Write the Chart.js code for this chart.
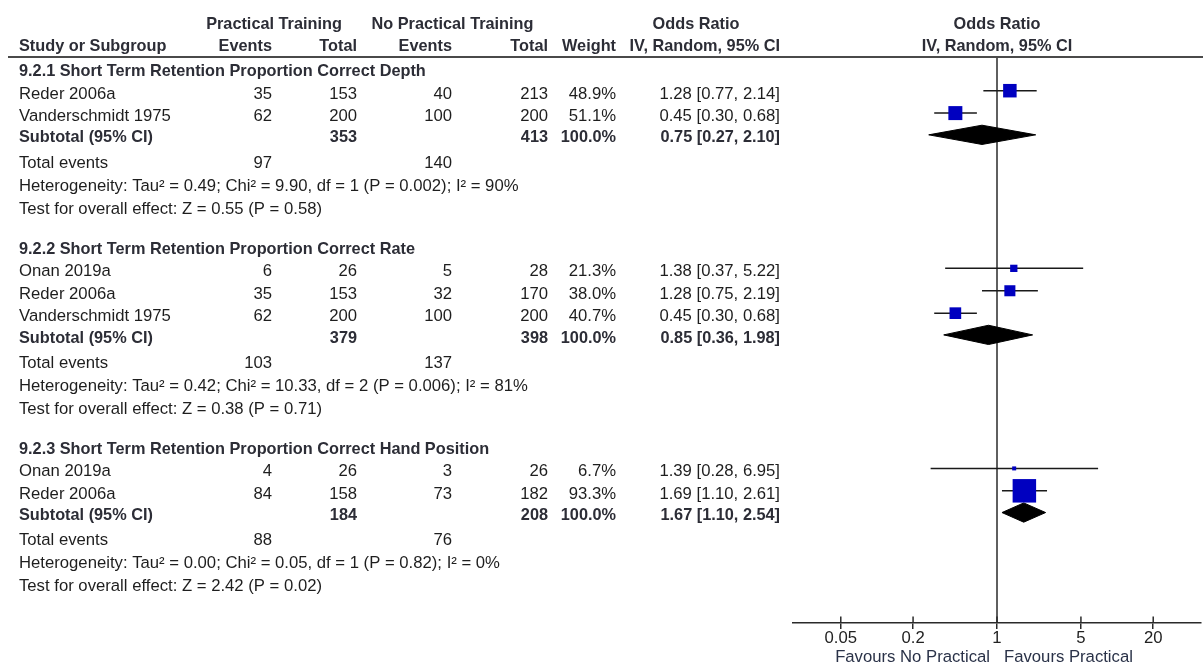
<!DOCTYPE html>
<html>
<head>
<meta charset="utf-8">
<script src="https://cdn.jsdelivr.net/npm/chart.js@4.4.1/dist/chart.umd.min.js"></script>
<style>
  html, body { margin: 0; padding: 0; background: #fff; }
  #wrap { width: 1203px; height: 664px; position: relative; }
</style>
</head>
<body>
<div id="wrap"><canvas id="forest" width="1203" height="664"></canvas></div>
<script>
// ---- Subgroups ----
const subgroupTitles = [
  "9.2.1 Short Term Retention Proportion Correct Depth",
  "9.2.2 Short Term Retention Proportion Correct Rate",
  "9.2.3 Short Term Retention Proportion Correct Hand Position"
];

// ---- Individual studies ----
const studyGroup        = [0, 0, 1, 1, 1, 2, 2];
const studyNames        = ["Reder 2006a", "Vanderschmidt 1975", "Onan 2019a", "Reder 2006a", "Vanderschmidt 1975", "Onan 2019a", "Reder 2006a"];
const eventsPractical   = [35, 62, 6, 35, 62, 4, 84];
const totalPractical    = [153, 200, 26, 153, 200, 26, 158];
const eventsNoPractical = [40, 100, 5, 32, 100, 3, 73];
const totalNoPractical  = [213, 200, 28, 170, 200, 26, 182];
const studyWeights      = [48.9, 51.1, 21.3, 38.0, 40.7, 6.7, 93.3];
const studyOR           = [1.28, 0.45, 1.38, 1.28, 0.45, 1.39, 1.69];
const studyLower        = [0.77, 0.30, 0.37, 0.75, 0.30, 0.28, 1.10];
const studyUpper        = [2.14, 0.68, 5.22, 2.19, 0.68, 6.95, 2.61];

// ---- Pooled results per subgroup ----
const subTotalPractical   = [353, 379, 184];
const subTotalNoPractical = [413, 398, 208];
const subWeight           = [100.0, 100.0, 100.0];
const subOR               = [0.75, 0.85, 1.67];
const subLower            = [0.27, 0.36, 1.10];
const subUpper            = [2.10, 1.98, 2.54];
const subEventsPractical  = [97, 103, 88];
const subEventsNoPractical= [140, 137, 76];
const hetTau2             = ["0.49", "0.42", "0.00"];
const hetChi2             = ["9.90", "10.33", "0.05"];
const hetDf               = [1, 2, 1];
const hetP                = ["0.002", "0.006", "0.82"];
const hetI2               = [90, 81, 0];
const overallZ            = ["0.55", "0.38", "2.42"];
const overallP            = ["0.58", "0.71", "0.02"];

// ---- Axis ----
const axisTicks = [0.05, 0.2, 1, 5, 20];
const axisTickLabels = ["0.05", "0.2", "1", "5", "20"];
const axisMin = 0.02, axisMax = 50;
const favoursLeft = "Favours No Practical";
const favoursRight = "Favours Practical";

// ---- Row layout (in line units on the y scale) ----
const studyRow = [], subRow = [], headRow = [], totRow = [], hetRow = [], testRow = [];
(function layoutRows() {
  let y = 0;
  for (let g = 0; g < subgroupTitles.length; g++) {
    headRow[g] = y;
    studyGroup.forEach((sg, i) => { if (sg === g) { y += 1; studyRow[i] = y; } });
    y += 0.97; subRow[g] = y;
    y += 1.1;  totRow[g] = y;
    y += 1.03; hetRow[g] = y;
    y += 1.03; testRow[g] = y;
    y += 1.8;
  }
})();

const FONT = "'Liberation Sans', Arial, sans-serif";
const REG_SIZE = 16.7, BOLD_SIZE = 16.3;
const TEXT = '#1e1e1e';
const BOLD = '#2c2d36';
const BLUE = '#0000c0';
const LINE = '#1a1a1a';

const fmt2 = v => v.toFixed(2);
const ciText = (o, l, u) => `${fmt2(o)} [${fmt2(l)}, ${fmt2(u)}]`;
const boxSide = w => 2.5 + 0.225 * w;

// Columns (right edges unless noted)
const COL = { name: 19, evP: 272, totP: 357, evN: 452, totN: 548, wt: 616, ci: 780 };

// ---- Datasets ----
const datasets = [];
studyNames.forEach((n, i) => {
  datasets.push({
    type: 'line',
    data: [{ x: studyLower[i], y: studyRow[i] }, { x: studyUpper[i], y: studyRow[i] }],
    borderColor: LINE, borderWidth: 1.5, pointRadius: 0, showLine: true, order: 2
  });
});
datasets.push({
  type: 'scatter',
  data: studyNames.map((n, i) => ({ x: studyOR[i], y: studyRow[i] })),
  pointStyle: 'rect',
  pointRadius: studyWeights.map(w => boxSide(w) / Math.SQRT2),
  backgroundColor: BLUE, borderColor: BLUE, borderWidth: 0, order: 0
});
subgroupTitles.forEach((t, g) => {
  const h = 0.43;
  datasets.push({
    type: 'line',
    data: [
      { x: subLower[g], y: subRow[g] },
      { x: subOR[g], y: subRow[g] - h },
      { x: subUpper[g], y: subRow[g] },
      { x: subOR[g], y: subRow[g] + h },
      { x: subLower[g], y: subRow[g] }
    ],
    borderColor: '#000', backgroundColor: '#000', borderWidth: 1,
    fill: 'shape', tension: 0, pointRadius: 0, showLine: true, order: 1
  });
});

// ---- Table text, rules, null line and axis labels ----
const forestDecor = {
  id: 'forestDecor',
  beforeDatasetsDraw(chart) {
    const { ctx, chartArea: a, scales: { x } } = chart;
    const x1 = x.getPixelForValue(1);
    ctx.save();
    ctx.strokeStyle = '#2a2a2a';
    ctx.lineWidth = 1.5;
    ctx.beginPath();
    ctx.moveTo(x1, a.top); ctx.lineTo(x1, a.bottom);
    ctx.stroke();
    // upper halves of the axis ticks
    axisTicks.forEach(v => {
      const px = x.getPixelForValue(v);
      ctx.beginPath(); ctx.moveTo(px, a.bottom - 6.5); ctx.lineTo(px, a.bottom); ctx.stroke();
    });
    ctx.restore();
  },
  afterDraw(chart) {
    const { ctx, chartArea: a, scales: { x, y } } = chart;
    const py = v => y.getPixelForValue(v);
    const put = (s, px, row, align, bold, color) => {
      ctx.font = (bold ? `bold ${BOLD_SIZE}px ` : `${REG_SIZE}px `) + FONT;
      ctx.fillStyle = color || (bold ? BOLD : TEXT);
      ctx.textAlign = align;
      ctx.textBaseline = 'alphabetic';
      ctx.fillText(s, px, py(row) + 6.5);
    };
    ctx.save();

    // header rule
    ctx.strokeStyle = '#4a4a4a';
    ctx.lineWidth = 2;
    ctx.beginPath(); ctx.moveTo(8, a.top); ctx.lineTo(1203, a.top); ctx.stroke();

    // header
    put("Practical Training", 274, -2.05, 'center', true);
    put("No Practical Training", 452.5, -2.05, 'center', true);
    put("Odds Ratio", 696, -2.05, 'center', true);
    put("Odds Ratio", x.getPixelForValue(1), -2.05, 'center', true);
    put("Study or Subgroup", COL.name, -1.07, 'left', true);
    put("Events", COL.evP, -1.07, 'right', true);
    put("Total", COL.totP, -1.07, 'right', true);
    put("Events", COL.evN, -1.07, 'right', true);
    put("Total", COL.totN, -1.07, 'right', true);
    put("Weight", COL.wt, -1.07, 'right', true);
    put("IV, Random, 95% CI", COL.ci, -1.07, 'right', true);
    put("IV, Random, 95% CI", x.getPixelForValue(1), -1.07, 'center', true);

    subgroupTitles.forEach((title, g) => {
      put(title, COL.name, headRow[g] + 0.05, 'left', true);
      studyGroup.forEach((sg, i) => {
        if (sg !== g) return;
        const r = studyRow[i] + 0.07;
        put(studyNames[i], COL.name, r, 'left');
        put(String(eventsPractical[i]), COL.evP, r, 'right');
        put(String(totalPractical[i]), COL.totP, r, 'right');
        put(String(eventsNoPractical[i]), COL.evN, r, 'right');
        put(String(totalNoPractical[i]), COL.totN, r, 'right');
        put(studyWeights[i].toFixed(1) + '%', COL.wt, r, 'right');
        put(ciText(studyOR[i], studyLower[i], studyUpper[i]), COL.ci, r, 'right');
      });
      const s = subRow[g] + 0.05;
      put("Subtotal (95% CI)", COL.name, s, 'left', true);
      put(String(subTotalPractical[g]), COL.totP, s, 'right', true);
      put(String(subTotalNoPractical[g]), COL.totN, s, 'right', true);
      put(subWeight[g].toFixed(1) + '%', COL.wt, s, 'right', true);
      put(ciText(subOR[g], subLower[g], subUpper[g]), COL.ci, s, 'right', true);

      put("Total events", COL.name, totRow[g] + 0.07, 'left');
      put(String(subEventsPractical[g]), COL.evP, totRow[g] + 0.07, 'right');
      put(String(subEventsNoPractical[g]), COL.evN, totRow[g] + 0.07, 'right');
      put(`Heterogeneity: Tau\u00b2 = ${hetTau2[g]}; Chi\u00b2 = ${hetChi2[g]}, df = ${hetDf[g]} (P = ${hetP[g]}); I\u00b2 = ${hetI2[g]}%`,
          COL.name, hetRow[g] + 0.07, 'left');
      put(`Test for overall effect: Z = ${overallZ[g]} (P = ${overallP[g]})`, COL.name, testRow[g] + 0.07, 'left');
    });

    // tick labels
    ctx.font = `${REG_SIZE}px ` + FONT;
    ctx.fillStyle = '#222';
    ctx.textBaseline = 'middle';
    ctx.textAlign = 'center';
    axisTicks.forEach((v, i) => ctx.fillText(axisTickLabels[i], x.getPixelForValue(v), a.bottom + 15));

    // favours labels under the axis
    const x1 = x.getPixelForValue(1);
    ctx.fillStyle = '#2a3248';
    ctx.textAlign = 'right';
    ctx.fillText(favoursLeft, x1 - 7, 657);
    ctx.textAlign = 'left';
    ctx.fillText(favoursRight, x1 + 7, 657);
    ctx.restore();
  }
};

new Chart(document.getElementById('forest'), {
  type: 'scatter',
  data: { datasets },
  options: {
    responsive: false,
    animation: false,
    events: [],
    layout: { autoPadding: false, padding: { left: 793, right: 2, top: 57, bottom: 0 } },
    plugins: { legend: { display: false }, tooltip: { enabled: false } },
    scales: {
      x: {
        type: 'logarithmic',
        min: axisMin, max: axisMax,
        afterBuildTicks: s => { s.ticks = axisTicks.map(v => ({ value: v })); },
        afterFit: s => { s.height = 41; s.paddingLeft = 0; s.paddingRight = 0; },
        border: { display: true, color: '#2a2a2a', width: 1.5 },
        grid: { display: true, drawOnChartArea: false, drawTicks: true, tickLength: 6, color: '#2a2a2a', lineWidth: 1.5 },
        ticks: { display: false }
      },
      y: {
        type: 'linear', display: false, reverse: true,
        min: -0.504, max: 24.76
      }
    }
  },
  plugins: [forestDecor]
});
</script>
</body>
</html>
